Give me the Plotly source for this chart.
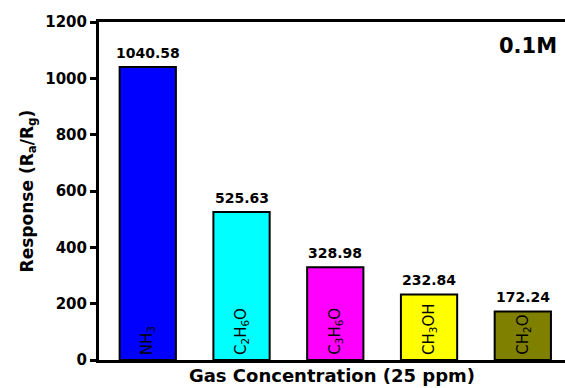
import plotly.graph_objects as go

# Gas response data
gases = ["NH<sub>3</sub>", "C<sub>2</sub>H<sub>6</sub>O", "C<sub>3</sub>H<sub>6</sub>O",
         "CH<sub>3</sub>OH", "CH<sub>2</sub>O"]
responses = [1040.58, 525.63, 328.98, 232.84, 172.24]
bar_colors = ["#0000FF", "#00FFFF", "#FF00FF", "#FFFF00", "#808000"]
y_ticks = [0, 200, 400, 600, 800, 1000, 1200]

FONT = "DejaVu Sans"
x_pos = list(range(len(gases)))

fig = go.Figure()
fig.add_trace(go.Bar(
    x=x_pos,
    y=responses,
    width=0.6,
    marker=dict(color=bar_colors, line=dict(color="black", width=2)),
    showlegend=False,
))

# value labels above bars
for i, v in enumerate(responses):
    fig.add_annotation(
        x=i, y=v, text=f"<b>{v:.2f}</b>", showarrow=False,
        xanchor="center", yanchor="bottom", yshift=4,
        font=dict(family=FONT, size=14, color="black"),
    )

# gas names written vertically inside each bar
for i, g in enumerate(gases):
    fig.add_annotation(
        x=i, y=0, text=g, textangle=-90, showarrow=False,
        xanchor="center", yanchor="bottom", yshift=3,
        font=dict(family=FONT, size=15, color="black"),
    )

fig.add_annotation(
    x=1, y=1, xref="paper", yref="paper", text="<b>0.1M</b>",
    showarrow=False, xanchor="right", yanchor="top", xshift=-6, yshift=-10,
    font=dict(family=FONT, size=21, color="black"),
)

fig.update_layout(
    width=565, height=388,
    margin=dict(l=99, r=0, t=22, b=28),
    plot_bgcolor="white", paper_bgcolor="white",
    xaxis=dict(
        range=[-0.52, 4.45], showticklabels=False, ticks="",
        showline=True, linecolor="black", linewidth=3, mirror=True,
        showgrid=False, zeroline=False,
        title=dict(text="<b>Gas Concentration (25 ppm)</b>", standoff=8,
                   font=dict(family=FONT, size=18, color="black")),
    ),
    yaxis=dict(
        range=[0, 1200], tickvals=y_ticks,
        ticktext=[f"<b>{t}</b>" for t in y_ticks],
        ticks="outside", ticklen=6, tickwidth=3, tickcolor="black",
        tickfont=dict(family=FONT, size=15, color="black"),
        showline=True, linecolor="black", linewidth=3, mirror=False,
        showgrid=False, zeroline=False,
        title=dict(text="<b>Response (R<sub>a</sub>/R<sub>g</sub>)</b>", standoff=8,
                   font=dict(family=FONT, size=17, color="black")),
    ),
)

fig.write_html("out.html")
